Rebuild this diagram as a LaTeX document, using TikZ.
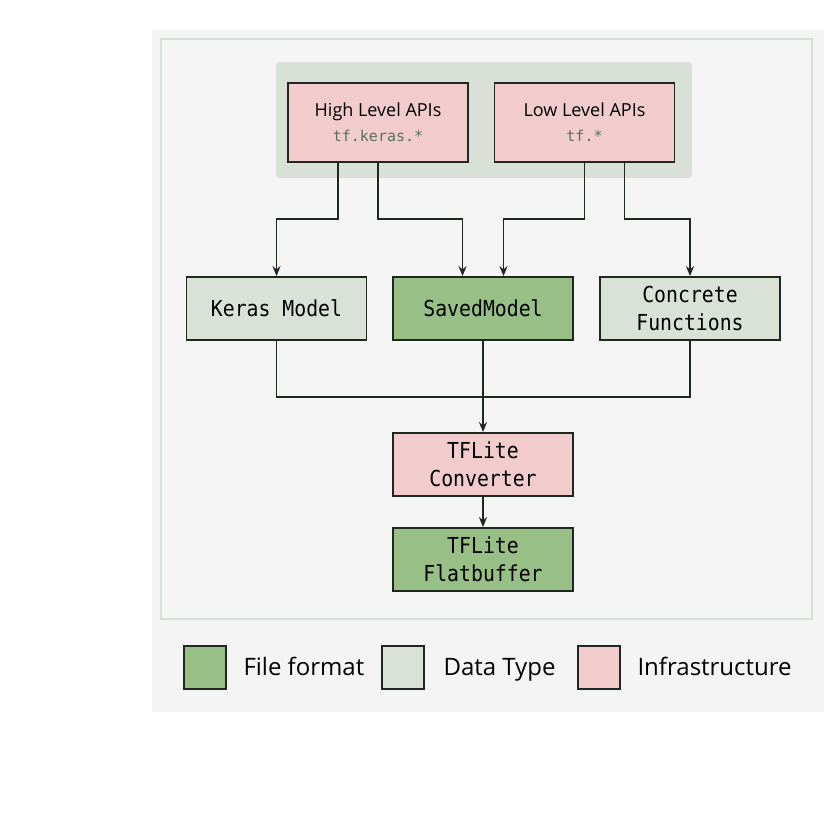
\documentclass[tikz,border=0pt]{standalone}
\usepackage{fontspec}
\setmainfont{Open Sans}
\newfontfamily\codefont{DejaVu Sans Mono}
\newfontfamily\boxfont[FakeStretch=0.9]{DejaVu Sans Mono}
\usetikzlibrary{arrows.meta}
\definecolor{outerbg}{HTML}{F4F4F4}
\definecolor{panelbg}{HTML}{F5F5F5}
\definecolor{panelline}{HTML}{D6E0D6}
\definecolor{groupbg}{HTML}{D8E0D8}
\definecolor{infrapink}{HTML}{F2CCCC}
\definecolor{filegreen}{HTML}{97BF86}
\definecolor{typegray}{HTML}{DAE2D8}
\definecolor{edge}{HTML}{1E281E}
\definecolor{codetext}{HTML}{56705A}
\begin{document}
\begin{tikzpicture}[x=1pt,y=-1pt,>={Stealth[length=10pt,width=8pt]},
  box/.style={draw=edge,line width=1.8pt,minimum width=180pt,minimum height=63pt,inner sep=0pt,align=center,font=\boxfont\fontsize{22}{28}\selectfont},
  infra/.style={box,fill=infrapink},
  fileformat/.style={box,fill=filegreen},
  datatype/.style={box,fill=typegray},
  api/.style={infra,minimum height=79pt,font=\fontsize{18}{25}\selectfont},
  key/.style={draw=edge,line width=1.8pt,minimum width=42pt,minimum height=43pt,inner sep=0pt},
  keytext/.style={anchor=base west,font=\fontsize{24}{28}\selectfont},
  line/.style={draw=edge,line width=1.8pt},
  link/.style={line,->}]
\useasboundingbox (0,0) rectangle (824,817);
\fill[outerbg] (152,30) rectangle (824,712);
\draw[panelline,fill=panelbg,line width=1.5pt] (161,39) rectangle (812,619);
\fill[groupbg,rounded corners=4pt] (276,62) rectangle (692,178);
\node[api] (high) at (378,122.5) {High Level APIs\\{\codefont\fontsize{15}{25}\selectfont\color{codetext}tf.keras.*}};
\node[api] (low) at (584.5,122.5) {Low Level APIs\\{\codefont\fontsize{15}{25}\selectfont\color{codetext}tf.*}};
\node[datatype] (keras) at (276.5,308.5) {Keras Model};
\node[fileformat] (saved) at (483,308.5) {SavedModel};
\node[datatype] (concrete) at (690,308.5) {Concrete\\Functions};
\node[infra] (converter) at (483,464.5) {TFLite\\Converter};
\node[fileformat] (flat) at (483,559.5) {TFLite\\Flatbuffer};
\draw[link] ([xshift=-40pt]high.south) -- ++(0,56) -| (keras.north);
\draw[link] (high.south) -- ++(0,56) -| ([xshift=-20.5pt]saved.north);
\draw[link] (low.south) -- ++(0,56) -| ([xshift=20.5pt]saved.north);
\draw[link] ([xshift=40pt]low.south) -- ++(0,56) -| (concrete.north);
\draw[line] (keras.south) -- ++(0,56) -| (concrete.south);
\draw[link] (saved.south) -- (converter.north);
\draw[link] (converter.south) -- (flat.north);
\node[key,fill=filegreen] (keyfile) at (205,667.5) {};
\node[keytext] (labfile) at (240,675) {File format};
\node[key,fill=typegray] (keytype) at (403,667.5) {};
\node[keytext] (labtype) at (440,675) {Data Type};
\node[key,fill=infrapink] (keyinfra) at (599,667.5) {};
\node[keytext] (labinfra) at (634,675) {Infrastructure};
\end{tikzpicture}
\end{document}
